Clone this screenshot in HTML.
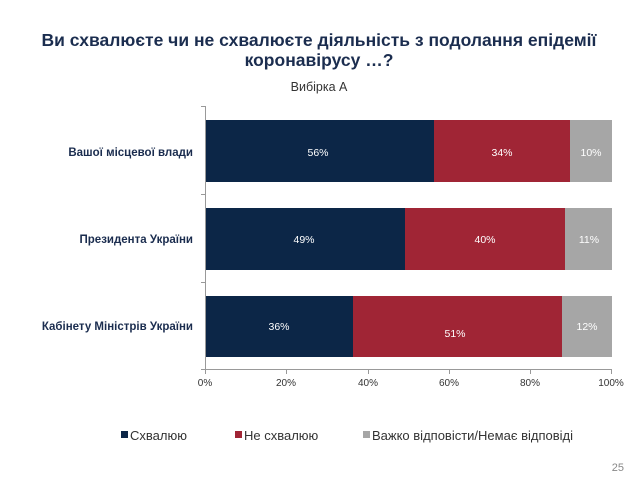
<!DOCTYPE html>
<html><head><meta charset="utf-8"><style>
body{margin:0;width:638px;height:479px;background:#fff;font-family:"Liberation Sans","DejaVu Sans",sans-serif;overflow:hidden}
</style></head><body>
<svg width="638" height="479" xmlns="http://www.w3.org/2000/svg" font-family="Liberation Sans, DejaVu Sans, sans-serif">
<text x="319" y="46" text-anchor="middle" font-size="17.5" font-weight="bold" fill="#1b2d4f">Ви схвалюєте чи не схвалюєте діяльність з подолання епідемії</text>
<text x="319" y="66" text-anchor="middle" font-size="17.5" font-weight="bold" fill="#1b2d4f">коронавірусу …?</text>
<text x="319" y="91" text-anchor="middle" font-size="12.5" fill="#333">Вибірка А</text>
<g stroke="#999" stroke-width="1">
<line x1="205.5" y1="106" x2="205.5" y2="370"/>
<line x1="201" y1="106.5" x2="205" y2="106.5"/>
<line x1="201" y1="194.5" x2="205" y2="194.5"/>
<line x1="201" y1="282.5" x2="205" y2="282.5"/>
<line x1="201" y1="369.5" x2="205" y2="369.5"/>
<line x1="205" y1="369.5" x2="612" y2="369.5"/>
<line x1="205.5" y1="370" x2="205.5" y2="374"/><line x1="286.5" y1="370" x2="286.5" y2="374"/><line x1="368.5" y1="370" x2="368.5" y2="374"/><line x1="449.5" y1="370" x2="449.5" y2="374"/><line x1="530.5" y1="370" x2="530.5" y2="374"/><line x1="611.5" y1="370" x2="611.5" y2="374"/>
</g>
<rect x="206" y="120" width="228" height="62" fill="#0c2647"/>
<rect x="434" y="120" width="136" height="62" fill="#a02535"/>
<rect x="570" y="120" width="42" height="62" fill="#a6a6a6"/>
<rect x="206" y="208" width="199" height="62" fill="#0c2647"/>
<rect x="405" y="208" width="160" height="62" fill="#a02535"/>
<rect x="565" y="208" width="47" height="62" fill="#a6a6a6"/>
<rect x="206" y="296" width="147" height="61" fill="#0c2647"/>
<rect x="353" y="296" width="209" height="61" fill="#a02535"/>
<rect x="562" y="296" width="50" height="61" fill="#a6a6a6"/>
<g font-size="10.5" fill="#fff" text-anchor="middle">
<text x="318" y="156">56%</text><text x="502" y="156">34%</text><text x="591" y="156">10%</text>
<text x="304" y="243">49%</text><text x="485" y="243">40%</text><text x="589" y="243">11%</text>
<text x="279" y="330">36%</text><text x="455" y="337">51%</text><text x="587" y="330">12%</text>
</g>
<g font-size="11.5" font-weight="bold" fill="#1b2d4f" text-anchor="end">
<text x="193" y="156">Вашої місцевої влади</text>
<text x="193" y="243">Президента України</text>
<text x="193" y="330">Кабінету Міністрів України</text>
</g>
<g font-size="10" fill="#333" text-anchor="middle">
<text x="205" y="386">0%</text><text x="286" y="386">20%</text><text x="368" y="386">40%</text><text x="449" y="386">60%</text><text x="530" y="386">80%</text><text x="611" y="386">100%</text>
</g>
<g font-size="13" fill="#333">
<rect x="121" y="431" width="7" height="7" fill="#0c2647"/><text x="130" y="440">Схвалюю</text>
<rect x="235" y="431" width="7" height="7" fill="#a02535"/><text x="244" y="440">Не схвалюю</text>
<rect x="363" y="431" width="7" height="7" fill="#a6a6a6"/><text x="372" y="440">Важко відповісти/Немає відповіді</text>
</g>
<text x="624" y="471" text-anchor="end" font-size="11" fill="#888">25</text>
</svg>
</body></html>
